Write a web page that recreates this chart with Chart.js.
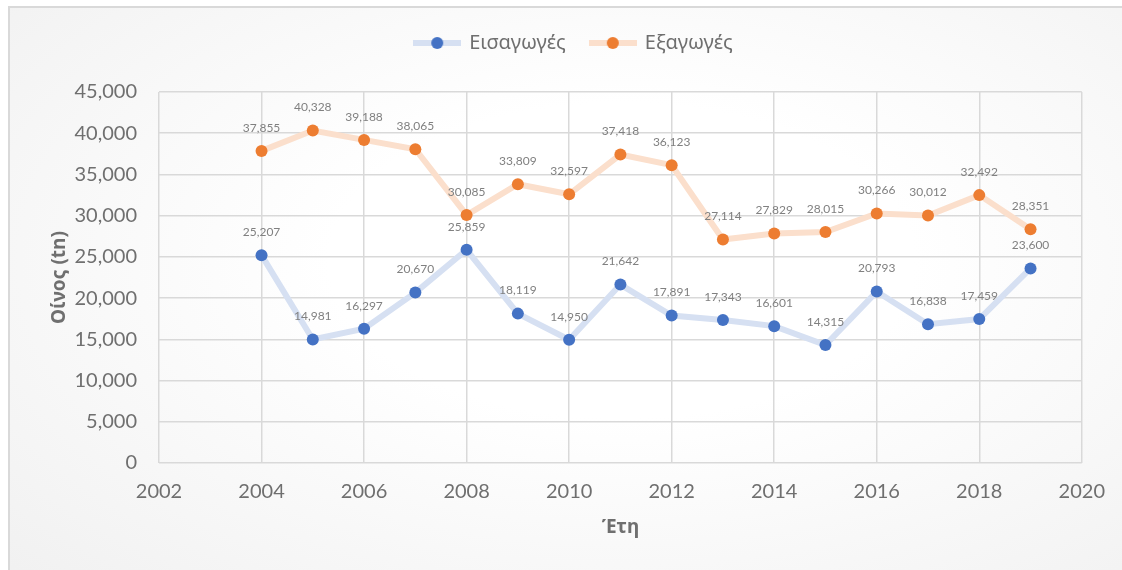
<!DOCTYPE html>
<html>
<head>
<meta charset="utf-8">
<script src="https://cdn.jsdelivr.net/npm/chart.js@4.4.1/dist/chart.umd.min.js"></script>
<style>
  html, body { margin: 0; padding: 0; background: #fff; overflow: hidden; }
  #wrap {
    position: absolute; left: 8px; top: 6px; width: 1112px; height: 562px;
    border-left: 2px solid #d9d9d9; border-top: 2px solid #d9d9d9;
    background: radial-gradient(ellipse 75% 80% at 55% 45%, #ffffff 35%, #f1f1f1 100%);
  }
  canvas { display: block; }
</style>
</head>
<body>
<div id="wrap"><canvas id="wine" width="1112" height="562"></canvas></div>
<script>
/* Wine imports / exports (tn) per year */
const years   = [2004, 2005, 2006, 2007, 2008, 2009, 2010, 2011, 2012, 2013, 2014, 2015, 2016, 2017, 2018, 2019];
const imports = [25207, 14981, 16297, 20670, 25859, 18119, 14950, 21642, 17891, 17343, 16601, 14315, 20793, 16838, 17459, 23600];
const exports = [37855, 40328, 39188, 38065, 30085, 33809, 32597, 37418, 36123, 27114, 27829, 28015, 30266, 30012, 32492, 28351];
const seriesNames = ['Εισαγωγές', 'Εξαγωγές'];
const xTitle = 'Έτη';
const yTitle = 'Οίνος (tn)';

const numFont = 'Lato, "Noto Sans", sans-serif';
const grkFont = '"Noto Sans", "Open Sans", sans-serif';
const textGray = '#6f6f6f';

// legend marker: pale thick line with a dot in the middle (Excel style)
function legendMarker(lineCol, dotCol) {
    const c = document.createElement('canvas');
    c.width = 48; c.height = 14;
    const g = c.getContext('2d');
    g.strokeStyle = lineCol; g.lineWidth = 6;
    g.beginPath(); g.moveTo(0, 7); g.lineTo(48, 7); g.stroke();
    g.fillStyle = dotCol;
    g.beginPath(); g.arc(24, 7, 6, 0, Math.PI * 2); g.fill();
    return c;
}

const fmt = v => v.toLocaleString('en-US');

// value labels above each point
const pointLabels = {
    id: 'pointLabels',
    afterDatasetsDraw(chart) {
        const ctx = chart.ctx;
        ctx.save();
        ctx.font = '12px ' + numFont;
        ctx.fillStyle = '#808080';
        ctx.textAlign = 'center';
        ctx.textBaseline = 'middle';
        chart.data.datasets.forEach((ds, i) => {
            chart.getDatasetMeta(i).data.forEach((pt, j) => {
                ctx.fillText(fmt(ds.data[j].y), pt.x, pt.y - 23);
            });
        });
        ctx.restore();
    }
};

// make room between legend and plot, nudge legend right like the original
const legendGap = {
    id: 'legendGap',
    afterInit(chart) {
        const lg = chart.legend;
        if (!lg || lg._gapPatched) return;
        const fit = lg.fit;
        lg.fit = function () { fit.call(this); this.height = 84; };
        lg._gapPatched = true;
    },
    afterLayout(chart) {
        const lg = chart.legend;
        if (lg) { lg.left += 28; lg.right += 28; }
    }
};

const colors = [
    { dot: '#4472C4', line: '#d6e0f2' },
    { dot: '#ED7D31', line: '#fbdfcc' }
];

new Chart(document.getElementById('wine'), {
    type: 'line',
    data: {
        datasets: [imports, exports].map((vals, i) => ({
            label: seriesNames[i],
            data: years.map((y, j) => ({ x: y, y: vals[j] })),
            borderColor: colors[i].line,
            borderWidth: 6,
            backgroundColor: colors[i].dot,
            pointBackgroundColor: colors[i].dot,
            pointBorderColor: colors[i].dot,
            pointBorderWidth: 0,
            pointRadius: 6,
            tension: 0,
            fill: false
        }))
    },
    options: {
        responsive: false,
        animation: false,
        layout: { padding: { top: 0, right: 40, bottom: 0, left: 0 } },
        plugins: {
            tooltip: { enabled: false },
            legend: {
                position: 'top',
                labels: {
                    usePointStyle: true,
                    pointStyleWidth: 44,
                    padding: 25,
                    color: textGray,
                    font: { family: grkFont, size: 20 },
                    generateLabels: chart => chart.data.datasets.map((ds, i) => ({
                        text: ds.label,
                        pointStyle: legendMarker(colors[i].line, colors[i].dot),
                        fontColor: textGray,
                        datasetIndex: i,
                        lineWidth: 0
                    }))
                }
            }
        },
        scales: {
            x: {
                type: 'linear',
                min: 2002, max: 2020,
                afterFit: s => { s.height = 107; },
                grid: { color: '#d9d9d9', lineWidth: 1.5, drawTicks: false },
                border: { display: false },
                ticks: { stepSize: 2, padding: 17, color: textGray, font: { family: numFont, size: 20 }, callback: v => String(v) },
                title: { display: true, text: xTitle, color: textGray, font: { family: grkFont, size: 19, weight: 'bold' }, padding: { top: 0, bottom: 31 } }
            },
            y: {
                min: 0, max: 45000,
                afterFit: s => { s.width = 149; },
                grid: { color: '#d9d9d9', lineWidth: 1.5, drawTicks: false },
                border: { display: false },
                ticks: { stepSize: 5000, padding: 22, color: textGray, font: { family: numFont, size: 20 }, callback: v => fmt(v) },
                title: { display: true, text: yTitle, color: textGray, font: { family: grkFont, size: 19, weight: 'bold' }, padding: { top: 38, bottom: 0 } }
            }
        }
    },
    plugins: [pointLabels, legendGap]
});
</script>
</body>
</html>
